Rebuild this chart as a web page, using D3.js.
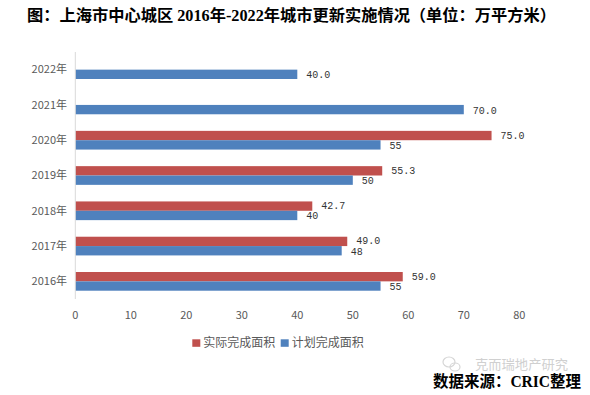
<!DOCTYPE html>
<html>
<head>
<meta charset="utf-8">
<script src="https://cdn.jsdelivr.net/npm/d3@7"></script>
<style>
  html, body { margin: 0; padding: 0; background: #fff; }
  svg { display: block; }
</style>
</head>
<body>
<div id="chart"></div>
<script>
// 年份（上から下の順）
const years = ["2022年", "2021年", "2020年", "2019年", "2018年", "2017年", "2016年"];
const seriesNames = ["实际完成面积", "计划完成面积"];
const seriesColors = ["#C0504D", "#4F81BD"];
// 实际完成面积 (2022/2021 无数据)
const actualValues = [null, null, 75.0, 55.3, 42.7, 49.0, 59.0];
const actualLabels = ["", "", "75.0", "55.3", "42.7", "49.0", "59.0"];
// 计划完成面积
const planValues = [40, 70, 55, 50, 40, 48, 55];
const planLabels = ["40.0", "70.0", "55", "50", "40", "48", "55"];
const xTicks = [0, 10, 20, 30, 40, 50, 60, 70, 80];

const width = 590, height = 395;
const plot = { left: 75.3, right: 519.3, top: 52, bottom: 299 };

const sansFont = "'Noto Sans CJK SC', 'Noto Sans', sans-serif";
const serifFont = "'Liberation Serif', 'Noto Sans CJK SC', serif";
const monoFont = "'Liberation Mono', 'DejaVu Sans Mono', monospace";

const svg = d3.select("#chart").append("svg")
  .attr("width", width)
  .attr("height", height);

svg.append("rect").attr("width", width).attr("height", height).attr("fill", "#fff");

// スケール
const x = d3.scaleLinear().domain([0, 80]).range([plot.left, plot.right]);
const y = d3.scaleBand().domain(years).range([plot.top, plot.bottom])
  .paddingInner(0.47).paddingOuter(0.235);
const sub = d3.scaleBand().domain([0, 1]).range([0, y.bandwidth()]);

// タイトル
svg.append("text")
  .attr("x", 27)
  .attr("y", 21)
  .attr("textLength", 529)
  .attr("lengthAdjust", "spacingAndGlyphs")
  .style("font-family", serifFont)
  .style("font-weight", "bold")
  .style("font-size", "16px")
  .style("fill", "#000")
  .text("图：上海市中心城区 2016年-2022年城市更新实施情况（单位：万平方米）");

// 棒
const seriesData = [
  { values: actualValues, labels: actualLabels, nudge: -0.5 },
  { values: planValues, labels: planLabels, nudge: 0.5 }
];

seriesData.forEach((s, si) => {
  const rows = years.map((yr, i) => ({ yr, v: s.values[i], label: s.labels[i] }))
    .filter(d => d.v != null);

  svg.append("g").selectAll("rect")
    .data(rows)
    .enter()
    .append("rect")
    .attr("x", x(0))
    .attr("y", d => y(d.yr) + sub(si))
    .attr("width", d => x(d.v) - x(0))
    .attr("height", sub.bandwidth())
    .attr("fill", seriesColors[si]);

  svg.append("g").selectAll("text")
    .data(rows)
    .enter()
    .append("text")
    .attr("x", d => x(d.v) + 9)
    .attr("y", d => y(d.yr) + sub(si) + sub.bandwidth() / 2 + s.nudge)
    .attr("dy", "0.35em")
    .style("font-family", monoFont)
    .style("font-size", "10px")
    .style("fill", "#333")
    .text(d => d.label);
});

// 縦軸線
svg.append("line")
  .attr("x1", x(0)).attr("x2", x(0))
  .attr("y1", plot.top).attr("y2", plot.bottom)
  .attr("stroke", "#d9d9d9")
  .attr("stroke-width", 1);

// カテゴリラベル
svg.append("g").selectAll("text")
  .data(years)
  .enter()
  .append("text")
  .attr("x", 67)
  .attr("y", d => y(d) + y.bandwidth() / 2)
  .attr("dy", "0.35em")
  .attr("text-anchor", "end")
  .style("font-family", sansFont)
  .style("font-size", "11px")
  .style("fill", "#595959")
  .text(d => d);

// X軸目盛
svg.append("g").selectAll("text")
  .data(xTicks)
  .enter()
  .append("text")
  .attr("x", d => x(d))
  .attr("y", 315)
  .attr("dy", "0.35em")
  .attr("text-anchor", "middle")
  .style("font-family", sansFont)
  .style("font-size", "11px")
  .style("fill", "#595959")
  .text(d => d);

// 凡例
const legendX = [192.3, 280.7];
seriesNames.forEach((name, i) => {
  svg.append("rect")
    .attr("x", legendX[i])
    .attr("y", 339.3)
    .attr("width", 8)
    .attr("height", 7.5)
    .attr("fill", seriesColors[i]);
  svg.append("text")
    .attr("x", legendX[i] + 11)
    .attr("y", 343)
    .attr("dy", "0.35em")
    .style("font-family", sansFont)
    .style("font-size", "12px")
    .style("fill", "#595959")
    .text(name);
});

// 透かし
const wm = svg.append("g").attr("fill", "none").attr("stroke", "#d6d6d6").attr("stroke-width", 1.2);
wm.append("ellipse").attr("cx", 449).attr("cy", 362).attr("rx", 6).attr("ry", 5);
wm.append("ellipse").attr("cx", 455).attr("cy", 367).attr("rx", 5).attr("ry", 4);
svg.append("text")
  .attr("x", 475)
  .attr("y", 364)
  .attr("dy", "0.35em")
  .attr("textLength", 93)
  .attr("lengthAdjust", "spacingAndGlyphs")
  .style("font-family", sansFont)
  .style("font-size", "13px")
  .style("fill", "#d0d0d0")
  .text("克而瑞地产研究");

// 出典
svg.append("text")
  .attr("x", 433)
  .attr("y", 387)
  .attr("textLength", 148)
  .attr("lengthAdjust", "spacingAndGlyphs")
  .style("font-family", serifFont)
  .style("font-weight", "bold")
  .style("font-size", "16px")
  .style("fill", "#000")
  .text("数据来源：CRIC整理");
</script>
</body>
</html>
